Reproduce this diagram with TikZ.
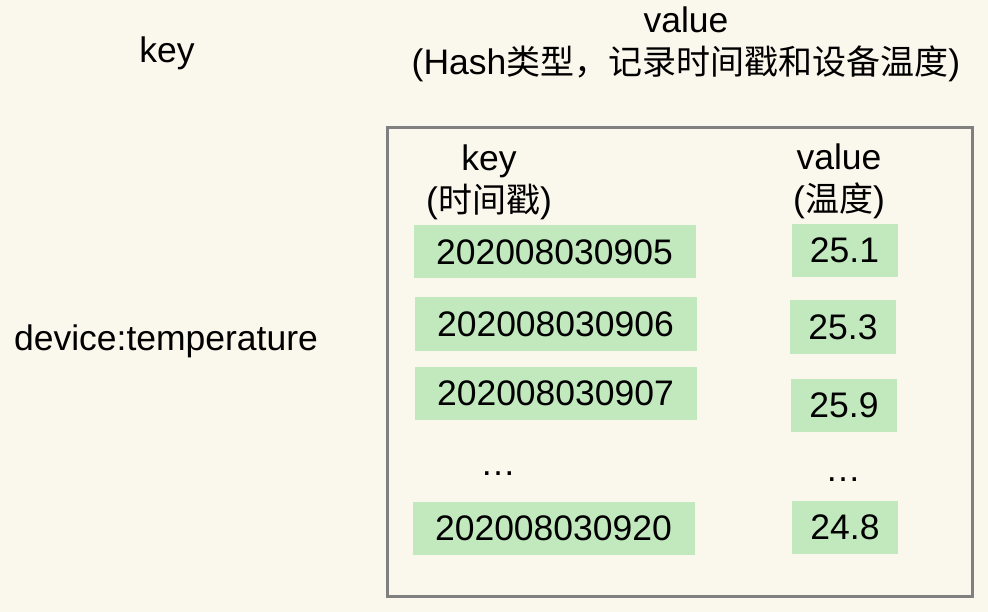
\documentclass[tikz,border=0pt]{standalone}
\usepackage{fontspec}
\setmainfont{Liberation Sans}
\newfontfamily\cjk{Noto Sans CJK SC}
\newcommand\zhtxt[1]{{\cjk\fontsize{34}{42}\selectfont #1}}
\definecolor{bgcream}{RGB}{250,247,236}
\definecolor{cellgreen}{RGB}{194,232,190}
\definecolor{framegray}{RGB}{128,128,128}

\begin{document}
\begin{tikzpicture}[x=1pt,y=1pt,yscale=-1,xscale=1,
  txt/.style={inner sep=0pt,align=center,font=\fontsize{35.5}{42}\selectfont},
  keycell/.style={txt,fill=cellgreen,minimum width=282pt,minimum height=53pt},
  valcell/.style={txt,fill=cellgreen,minimum width=106pt,minimum height=53pt}]
%set diagram area: 988 x 612
\useasboundingbox (0,0) rectangle (988,612);
\fill[bgcream] (0,0) rectangle (988,612);

%Shape: Rectangle [hash frame]
\draw [color=framegray, line width=3pt] (387,128) rectangle (972,596);

% Text Node
\node (toplkey) at (167,53) [txt] {key};
% Text Node
\node (toplval) at (686,44) [txt] {value\\(Hash\zhtxt{类型，记录时间戳和设备温度})};
% Text Node
\node (devkey) at (166,341) [txt] {device:temperature};

% Text Node
\node (fieldhd) at (489,182) [txt] {key\\(\zhtxt{时间戳})};
% Text Node
\node (temphd) at (839,181) [txt] {value\\(\zhtxt{温度})};

%Shape: Rectangle [key cells]
\node (ts1) at (554.5,252) [keycell] {202008030905};
\node (ts2) at (555.5,324) [keycell] {202008030906};
\node (ts3) at (555.5,393.5) [keycell] {202008030907};
\node (ts4) at (553.5,528) [keycell] {202008030920};

%Shape: Rectangle [value cells]
\node (tp1) at (844.5,250.5) [valcell] {25.1};
\node (tp2) at (843,327) [valcell] {25.3};
\node (tp3) at (844,405.5) [valcell] {25.9};
\node (tp4) at (845,527.5) [valcell] {24.8};

% Text Node
\node (tsdots) at (498,475) [txt,anchor=base] {…};
% Text Node
\node (tpdots) at (843,481) [txt,anchor=base] {…};

\end{tikzpicture}
\end{document}
